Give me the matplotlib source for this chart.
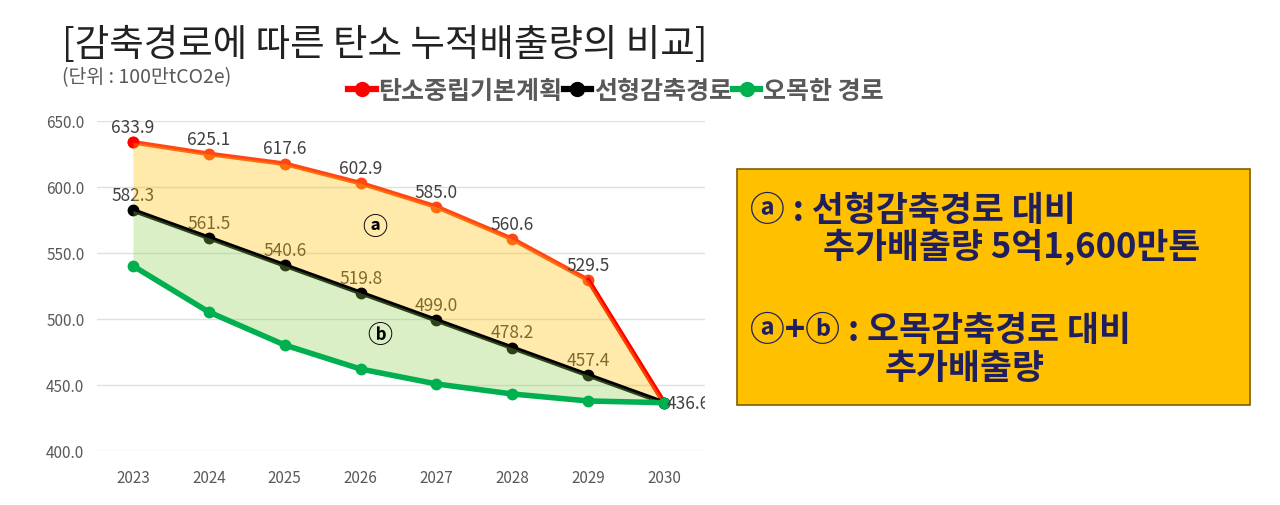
import matplotlib
matplotlib.use("Agg")
import matplotlib.pyplot as plt
from matplotlib.lines import Line2D
from matplotlib.patches import Rectangle

plt.rcParams['font.family'] = ['Noto Sans CJK KR', 'DejaVu Sans']

years = [2023, 2024, 2025, 2026, 2027, 2028, 2029, 2030]
plan = [633.9, 625.1, 617.6, 602.9, 585.0, 560.6, 529.5, 436.6]
linear = [582.3, 561.5, 540.6, 519.8, 499.0, 478.2, 457.4, 436.6]
concave = [540.2, 505.3, 480.3, 462.1, 450.8, 443.2, 437.9, 436.6]
series_names = ['탄소중립기본계획', '선형감축경로', '오목한 경로']
yticks = [400.0, 450.0, 500.0, 550.0, 600.0, 650.0]

fig = plt.figure(figsize=(12.8, 5.06), dpi=100)
ax = fig.add_axes([97/1280, 1-452/506, (705-97)/1280, (452-122)/506])
ax.set_xlim(2022.526, 2030.54)
ax.set_ylim(400, 650)
for s in ax.spines.values():
    s.set_visible(False)
ax.set_yticks(yticks)
ax.set_yticklabels([f"{v:.1f}" for v in yticks])
ax.set_xticks(years)
ax.set_xticklabels([str(y) for y in years])
ax.tick_params(length=0, labelsize=11, labelcolor='#595959')
ax.tick_params(axis='x', pad=13)
ax.tick_params(axis='y', pad=9)
ax.grid(axis='y', color='#e0e0e0', lw=1)
ax.set_axisbelow(True)

ax.plot(years, plan, color='#ff4614', lw=3.4, marker='o', ms=7.5, zorder=2)
ax.plot(years[-2:], plan[-2:], color='#ff0000', lw=3.4, zorder=2.1)
ax.plot(years[:1], plan[:1], color='#ff0000', marker='o', ms=7.5, lw=0, zorder=2.2)
ax.plot(years, linear, color='#000000', lw=3.4, marker='o', ms=7.5, zorder=3.5)
ax.plot(years, concave, color='#00b050', lw=4.0, marker='o', ms=7.5, zorder=4.5)

ax.fill_between(years, linear, plan, color='#ffc000', alpha=0.33, lw=0, zorder=3)
ax.fill_between(years, concave, linear, color='#92d050', alpha=0.32, lw=0, zorder=4)

for x, v in zip(years[:-1], plan[:-1]):
    ax.annotate(f"{v:.1f}", (x, v), xytext=(0, 11), textcoords='offset points',
                ha='center', va='center', fontsize=12.5, color='#404040', zorder=2.5)
for x, v in zip(years[:-1], linear[:-1]):
    ax.annotate(f"{v:.1f}", (x, v), xytext=(0, 11), textcoords='offset points',
                ha='center', va='center', fontsize=12.5, color='#404040', zorder=2.5)
ax.text(years[-1] + 0.04, linear[-1], f"{linear[-1]:.1f}", ha='left', va='center',
        fontsize=12.5, color='#404040', zorder=6, clip_on=True)

ax.text(2026.19, 569.5, 'ⓐ', ha='center', va='center', fontsize=18, fontweight='bold', color='black', zorder=6)
ax.text(2026.25, 488.0, 'ⓑ', ha='center', va='center', fontsize=18, fontweight='bold', color='black', zorder=6)

fig.text(62/1280, 1-45/506, '[감축경로에 따른 탄소 누적배출량의 비교]', fontsize=27,
         color='#222222', va='center', ha='left', fontweight='light')
fig.text(62/1280, 1-78/506, '(단위 : 100만tCO2e)', fontsize=14, color='#595959', va='center', ha='left')

handles = [Line2D([], [], color=c, lw=4.5, marker='o', ms=10) for c in ['#ff0000', '#000000', '#00b050']]
leg = fig.legend(handles, series_names, loc='center', bbox_to_anchor=(616/1280, 1-92/506), ncol=3,
                 frameon=False, handlelength=1.1, handletextpad=0.1, columnspacing=0.05,
                 prop={'family': ['Noto Sans CJK KR', 'DejaVu Sans'], 'weight': 'bold', 'size': 18})
for tx in leg.get_texts():
    tx.set_color('#595959')

box = Rectangle((737/1280, 1-406/506), (1250-737)/1280, (406-170)/506, transform=fig.transFigure,
                facecolor='#ffc000', edgecolor='#7f6000', lw=1.2)
fig.patches.append(box)
tc = '#1f1f5f'
fs = 25
fig.text(750/1280, 1-210/506, 'ⓐ : 선형감축경로 대비', fontsize=fs, fontweight='bold', color=tc, va='center')
fig.text(823/1280, 1-247/506, '추가배출량 5억1,600만톤', fontsize=fs, fontweight='bold', color=tc, va='center')
fig.text(750/1280, 1-330/506, 'ⓐ+ⓑ : 오목감축경로 대비', fontsize=fs, fontweight='bold', color=tc, va='center')
fig.text(885/1280, 1-368/506, '추가배출량', fontsize=fs, fontweight='bold', color=tc, va='center')

fig.savefig('out.png', dpi=100)
